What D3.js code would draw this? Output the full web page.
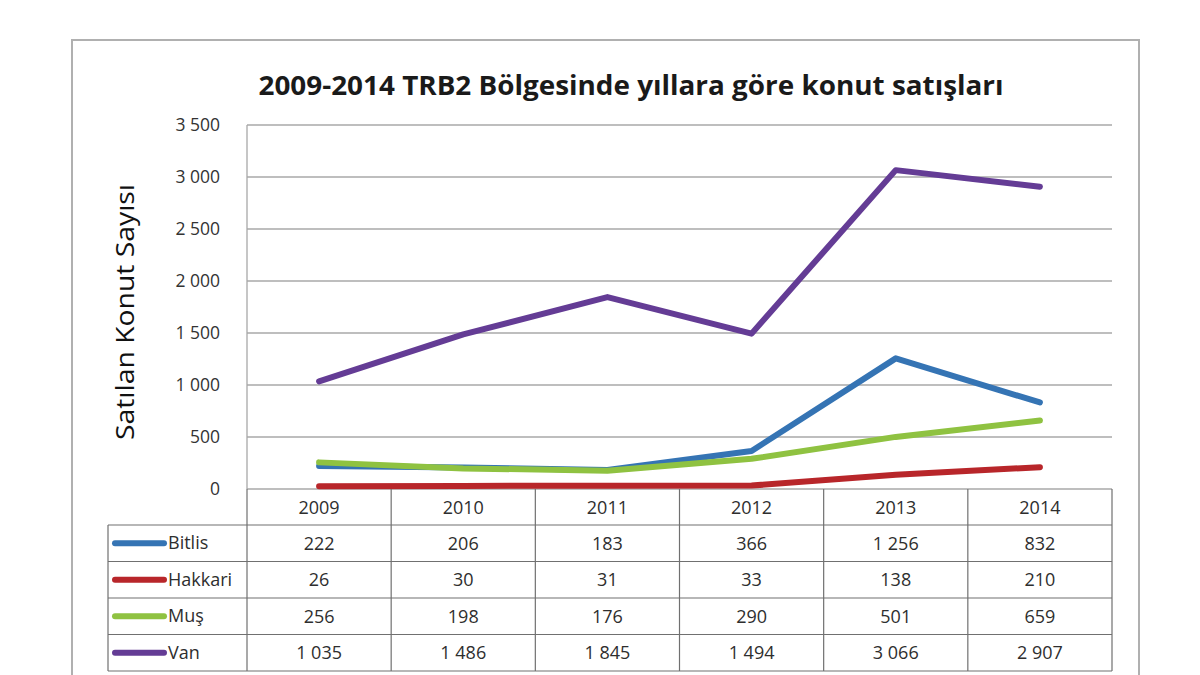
<!DOCTYPE html>
<html><head><meta charset="utf-8">
<script src="https://cdn.jsdelivr.net/npm/d3@7"></script>
<style>body{margin:0;background:#fff}svg{display:block}</style>
</head><body>
<svg id="c" width="1200" height="675"></svg>
<script>
const years = ["2009","2010","2011","2012","2013","2014"];
const seriesNames = ["Bitlis","Hakkari","Muş","Van"];
const bitlis = [222,206,183,366,1256,832];
const hakkari = [26,30,31,33,138,210];
const mus = [256,198,176,290,501,659];
const van = [1035,1486,1845,1494,3066,2907];
const yTicks = [0,500,1000,1500,2000,2500,3000,3500];
const colors = ["#3574b4","#b8262a","#8fc241","#643c95"];
const series = [bitlis,hakkari,mus,van];

const svg = d3.select("#c");
const font = "'Open Sans', 'Liberation Sans', sans-serif";
const fmt = v => d3.format(",")(v).replace(/,/g," ");

// outer frame
svg.append("path").attr("d","M72,700 L72,40 L1139,40 L1139,700")
  .attr("fill","none").attr("stroke","#b0b0b0").attr("stroke-width",2);

const L=247, R=1112, T=125, B=489;
const x = d3.scaleBand().domain(years).range([L,R]);
const y = d3.scaleLinear().domain([0,3500]).range([B,T]);

svg.append("text").attr("x",631).attr("y",95).attr("text-anchor","middle")
  .attr("font-family",font).attr("font-weight","bold").attr("font-size",26)
  .attr("textLength",745).attr("lengthAdjust","spacingAndGlyphs")
  .attr("fill","#1a1a1a").text("2009-2014 TRB2 Bölgesinde yıllara göre konut satışları");

// gridlines
svg.append("g").selectAll("line").data(yTicks).join("line")
  .attr("x1",L).attr("x2",R).attr("y1",d=>y(d)).attr("y2",d=>y(d))
  .attr("stroke","#a8a8a8").attr("stroke-width",1.3);
svg.append("line").attr("x1",L).attr("x2",L).attr("y1",T).attr("y2",B)
  .attr("stroke","#a8a8a8").attr("stroke-width",1.3);

// y tick labels
const ya = svg.append("g").attr("transform",`translate(${L-24},0)`)
  .call(d3.axisLeft(y).tickValues(yTicks).tickFormat(fmt).tickSize(0));
ya.select(".domain").remove();
ya.selectAll("text").attr("font-family",font).attr("font-size",17.5).attr("fill","#333");

svg.append("text").attr("transform","translate(134,312) rotate(-90)")
  .attr("text-anchor","middle").attr("font-family",font).attr("font-size",25)
  .attr("textLength",256).attr("lengthAdjust","spacingAndGlyphs")
  .attr("fill","#111").text("Satılan Konut Sayısı");

// lines
const line = d3.line().x((d,i)=>x(years[i])+x.bandwidth()/2).y(d=>y(d));
series.forEach((s,k)=>{
  svg.append("path").datum(s).attr("d",line).attr("fill","none")
    .attr("stroke",colors[k]).attr("stroke-width",6).attr("stroke-linecap","round")
    .attr("stroke-linejoin","round");
});

// data table
const rowH = 36.5, headTop = B, rowTop = 525, legL = 108;
const tg = svg.append("g").attr("stroke","#707070").attr("stroke-width",1.2);
years.forEach((yr,i)=>{
  tg.append("line").attr("x1",x(yr)).attr("x2",x(yr)).attr("y1",headTop).attr("y2",rowTop+4*rowH);
});
tg.append("line").attr("x1",R).attr("x2",R).attr("y1",headTop).attr("y2",rowTop+4*rowH);
tg.append("line").attr("x1",legL).attr("x2",legL).attr("y1",rowTop).attr("y2",rowTop+4*rowH);
for(let r=0;r<=4;r++){
  tg.append("line").attr("x1",legL).attr("x2",R).attr("y1",rowTop+r*rowH).attr("y2",rowTop+r*rowH);
}
svg.append("g").selectAll("text").data(years).join("text")
  .attr("x",d=>x(d)+x.bandwidth()/2).attr("y",(headTop+rowTop)/2+6.5)
  .attr("text-anchor","middle").attr("font-family",font).attr("font-size",18)
  .attr("fill","#2e2e2e").text(d=>d);
series.forEach((s,k)=>{
  const cy = rowTop + k*rowH + rowH/2;
  svg.append("line").attr("x1",115).attr("x2",164).attr("y1",cy).attr("y2",cy)
    .attr("stroke",colors[k]).attr("stroke-width",6).attr("stroke-linecap","round");
  svg.append("text").attr("x",168).attr("y",cy+6).attr("font-family",font)
    .attr("font-size",18).attr("fill","#2e2e2e").text(seriesNames[k]);
  svg.append("g").selectAll("text").data(s).join("text")
    .attr("x",(d,i)=>x(years[i])+x.bandwidth()/2).attr("y",cy+6.5)
    .attr("text-anchor","middle").attr("font-family",font).attr("font-size",18)
    .attr("fill","#2e2e2e").text(d=>fmt(d));
});
</script>
</body></html>
